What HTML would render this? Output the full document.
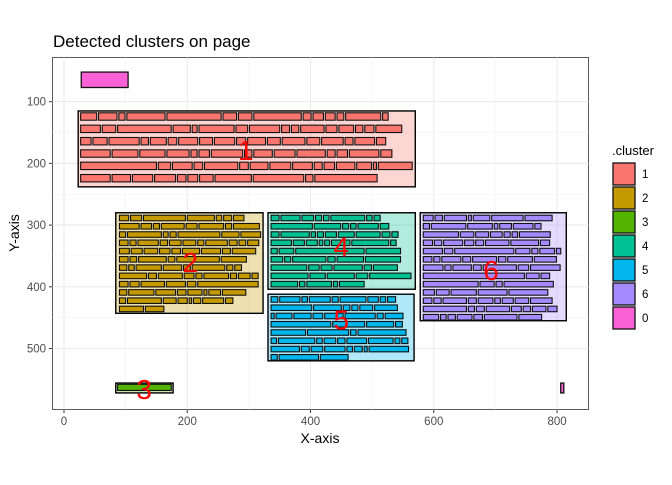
<!DOCTYPE html>
<html><head><meta charset="utf-8"><style>
body{margin:0;background:#fff;font-family:"Liberation Sans",sans-serif}
svg text{font-family:"Liberation Sans",sans-serif}
</style></head><body>
<svg id="chart" width="672" height="480" xmlns="http://www.w3.org/2000/svg">
<text x="53" y="47" font-size="17" fill="#000">Detected clusters on page</text>
<rect x="52.5" y="57.5" width="536" height="352" fill="#fff" stroke="#333" stroke-width="0.8"/>
<g id="grid"></g>
<g id="clusters"></g>
<g id="axes"></g>
<text x="320" y="443" font-size="14" text-anchor="middle">X-axis</text>
<text x="19" y="233" font-size="14" text-anchor="middle" transform="rotate(-90 19 233)">Y-axis</text>
<g id="legend"><text x="612" y="155" font-size="13">.cluster</text></g>
</svg>
<script>
const xTicks=[0,200,400,600,800];
const yTicks=[100,200,300,400,500];
const legendKeys=["1","2","3","4","5","6","0"];
const clusterIds=["1","2","3","4","5","6"];
const clusterBoxes=[[23,115,570,238],[84,280,323,443],[84,556,177,572],[331,280,570,404],[331,412,568,520],[578,280,815,455]];
const clusterLabelPos=[[295,178],[205,360],[130,566],[450,335],[450,453],[693,373]];
const rowStarts=[27,90,87,336,336,583];
const rowTops=[118,284,558,284,416,284];
const rowPitch=[20,13.4,0,13.4,13.4,13.4];
const wordHeight=[12,9,10,9,9,9];
const rows1=[[26,30,10,62,88,22,22,77,13,17,16,11,57,9],[32,22,87,28,8,57,19,49,13,12,38,18,24,12,15,42],[17,23,49,12,26,14,31,21,33,15,29,21,37,21,35,13,32,15],[48,42,41,36,10,17,51,12,30,34,46,13,17,48,18],[123,20,32,14,54,14,29,34,32,13,17,30,24,5,55],[48,30,33,34,14,16,22,59,82,12,101]];
const rows2=[[15,18,68,44,9,13,17],[32,17,10,37,18,40,10,42],[10,55,8,10,68,28,32],[14,10,33,12,19,21,10,35,13,11,18],[16,18,22,17,14,28,31,13,38],[14,11,45,11,69,41],[12,9,41,30,11,53,10,11],[44,13,39,16,10,40,10,19,10],[14,15,38,31,14,98],[12,41,32,14,23,5,19,38],[10,55,21,15,4,12,34,12],[39,30]];
const rows3=[[87]];
const rows4=[[13,31,19,10,9,55,9,10],[67,43,10,9,33,14],[13,46,7,10,18,26,39,13,10],[33,18,18,6,8,30,60,9],[10,24,111,56],[19,10,54,12,43,57],[58,17,18,46,12,39],[60,25,44,19,67],[43,9,40,7,40]];
const rows5=[[11,33,9,34,10,42,17,9,13],[66,45,11,10,21,37],[5,26,28,16,30,49,10,29],[97,52,44,11],[56,67,9,78],[9,59,9,19,12,32,40,8,10],[46,13,19,33,9,13,5,64],[10,64,45]];
const rows6=[[16,12,36,5,27,51,44],[10,56,40,6,19,32,10],[57,22,21,19,10,9,50],[15,12,31,15,13,38,45,15],[31,14,96,23,10,24,7],[14,10,31,13,39,12,40,36],[32,10,30,13,54,17,48],[164,21,14],[89,23,10,80],[18,21,41,47,63],[14,12,38,13,24,9,18,22,35],[70,10,13,38,16,12,22,15],[25,9,12,24,14,53,37]];
const noiseWords=[[28,52,104,77],[806,556,811,572]];
const colors={"1":"#F8766D","2":"#C49A00","3":"#53B400","4":"#00C094","5":"#00B6EB","6":"#A58AFF","0":"#FB61D7"};
const allRows=[rows1,rows2,rows3,rows4,rows5,rows6];
const X=v=>64+v*0.6163, Y=v=>40+v*0.617;
const NS="http://www.w3.org/2000/svg";
function mk(p,t,a){const e=document.createElementNS(NS,t);for(const k in a)e.setAttribute(k,a[k]);p.appendChild(e);return e;}
const grid=document.getElementById('grid'),axes=document.getElementById('axes');
const minorX=[100,300,500,700],minorY=[150,250,350,450];
minorX.forEach(v=>{const l=mk(grid,'line',{x1:X(v),x2:X(v),y1:57.5,y2:409.5,stroke:'#f2f2f2','stroke-width':0.6});

});
minorY.forEach(v=>{const l=mk(grid,'line',{x1:52.5,x2:588.5,y1:Y(v),y2:Y(v),stroke:'#f2f2f2','stroke-width':0.6});

});
xTicks.forEach(v=>{const l=mk(grid,'line',{x1:X(v),x2:X(v),y1:57.5,y2:409.5,stroke:'#ebebeb','stroke-width':1.1});


const t=mk(axes,'line',{x1:X(v),x2:X(v),y1:409.5,y2:413,stroke:'#333'});


const s=mk(axes,'text',{x:X(v),y:425,'font-size':11.5,fill:'#4d4d4d','text-anchor':'middle'});s.textContent=v;

});
yTicks.forEach(v=>{const l=mk(grid,'line',{x1:52.5,x2:588.5,y1:Y(v),y2:Y(v),stroke:'#ebebeb','stroke-width':1.1});


const t=mk(axes,'line',{x1:49,x2:52.5,y1:Y(v),y2:Y(v),stroke:'#333'});


const s=mk(axes,'text',{x:46,y:Y(v)+4,'font-size':11.5,fill:'#4d4d4d','text-anchor':'end'});s.textContent=v;

});
const cg=document.getElementById('clusters');
clusterIds.forEach((id,i)=>{const b=clusterBoxes[i],c=colors[id];
const r=mk(cg,'rect',{x:X(b[0]),y:Y(b[1]),width:X(b[2])-X(b[0]),height:Y(b[3])-Y(b[1]),fill:c,'fill-opacity':0.3,stroke:'#000','stroke-width':1.4});


allRows[i].forEach((row,ri)=>{let x=rowStarts[i];const y=rowTops[i]+ri*rowPitch[i];
row.forEach(w=>{const wr=mk(cg,'rect',{x:X(x),y:Y(y),width:X(x+w)-X(x),height:Y(y+wordHeight[i])-Y(y),fill:c,stroke:'#111','stroke-width':1.1});


x+=w+3;});});});
noiseWords.forEach(b=>{const r=mk(cg,'rect',{x:X(b[0]),y:Y(b[1]),width:X(b[2])-X(b[0]),height:Y(b[3])-Y(b[1]),fill:colors["0"],stroke:'#111','stroke-width':1.3});

});
clusterIds.forEach((id,i)=>{const p=clusterLabelPos[i];
const t=mk(cg,'text',{x:X(p[0]),y:Y(p[1])+10,'font-size':28,fill:'#ff0000','text-anchor':'middle'});t.textContent=id;

});
const lg=document.getElementById('legend');
legendKeys.forEach((k,i)=>{const y=163+i*24;
const r=mk(lg,'rect',{x:613,y:y,width:22,height:22,fill:colors[k],stroke:'#111','stroke-width':1.3});


const t=mk(lg,'text',{x:642,y:y+15,'font-size':11.5,fill:'#000'});t.textContent=k;

});
</script>
</body></html>
